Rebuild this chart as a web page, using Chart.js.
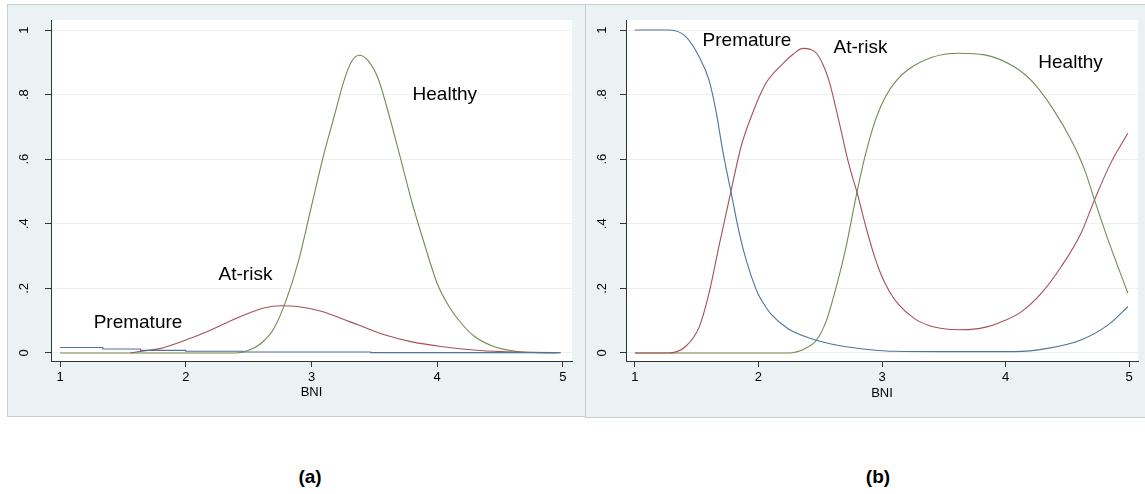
<!DOCTYPE html>
<html>
<head>
<meta charset="utf-8">
<script src="https://cdn.jsdelivr.net/npm/chart.js@4.4.1/dist/chart.umd.min.js"></script>
<style>
  body { margin: 0; background: #fff; width: 1145px; height: 494px; overflow: hidden; position: relative; font-family: "Liberation Sans", Arial, sans-serif; }
  .frame { position: absolute; background: #eaf2f3; box-sizing: border-box; border: 1px solid #c9cfd1; }
  .frame canvas { position: absolute; left: 0; top: 0; }
  .caption { position: absolute; top: 466px; font-weight: bold; font-size: 19px; width: 60px; text-align: center; color: #000; }
</style>
</head>
<body>
<div class="frame" id="frameA" style="left:7px; top:4px; width:579px; height:413px;">
  <canvas id="chartA" width="578" height="412"></canvas>
</div>
<div class="frame" id="frameB" style="left:585px; top:4px; width:562px; height:414px; border-right:none;">
  <canvas id="chartB" width="560" height="413"></canvas>
</div>
<div class="caption" style="left:280px;">(a)</div>
<div class="caption" style="left:848px;">(b)</div>

<script>
// tick values
const xTicks = [1, 2, 3, 4, 5];
const yTicks = [0, 0.2, 0.4, 0.6, 0.8, 1];
const yTickLabels = ['0', '.2', '.4', '.6', '.8', '1'];

// (a) densities by group
const densHealthyX = [1, 2.4, 2.5, 2.6, 2.7, 2.8, 2.9, 3.0, 3.1, 3.18, 3.26, 3.32, 3.38, 3.45, 3.53, 3.6, 3.7, 3.8, 3.9, 4.0, 4.1, 4.2, 4.3, 4.45, 4.64, 4.8, 4.95];
const densHealthyY = [0, 0, 0.008, 0.03, 0.075, 0.165, 0.29, 0.455, 0.618, 0.732, 0.845, 0.903, 0.922, 0.905, 0.85, 0.76, 0.615, 0.465, 0.335, 0.215, 0.14, 0.088, 0.05, 0.02, 0.004, 0.001, 0];
const densAtRiskX = [1.56, 1.7, 1.8, 1.9, 2.0, 2.1, 2.2, 2.35, 2.5, 2.62, 2.76, 2.9, 3.07, 3.18, 3.37, 3.58, 3.79, 4.03, 4.29, 4.51, 4.75, 4.98];
const densAtRiskY = [0, 0.008, 0.014, 0.026, 0.04, 0.055, 0.071, 0.098, 0.123, 0.139, 0.146, 0.143, 0.13, 0.115, 0.087, 0.056, 0.035, 0.02, 0.009, 0.004, 0.002, 0.001];
const densPrematureX = [1, 1.34, 1.64, 2.0, 2.45, 3.47, 4.98];
const densPrematureY = [0.017, 0.012, 0.008, 0.005, 0.003, 0.001, 0.001];

// (b) predicted probabilities
const probPrematureX = [1, 1.28, 1.41, 1.52, 1.60, 1.66, 1.71, 1.78, 1.84, 1.88, 1.94, 2.0, 2.05, 2.1, 2.24, 2.43, 2.64, 2.91, 3.1, 3.5, 4.07, 4.34, 4.61, 4.83, 4.99];
const probPrematureY = [1, 1, 0.98, 0.917, 0.845, 0.742, 0.628, 0.494, 0.38, 0.316, 0.24, 0.18, 0.148, 0.121, 0.075, 0.044, 0.024, 0.01, 0.005, 0.004, 0.004, 0.014, 0.04, 0.087, 0.143];
const probAtRiskX = [1, 1.27, 1.41, 1.52, 1.60, 1.68, 1.78, 1.86, 1.96, 2.06, 2.20, 2.28, 2.36, 2.42, 2.47, 2.52, 2.57, 2.65, 2.73, 2.80, 2.87, 2.93, 2.99, 3.06, 3.13, 3.26, 3.38, 3.50, 3.62, 3.72, 3.84, 3.94, 4.13, 4.29, 4.45, 4.61, 4.72, 4.85, 4.99];
const probAtRiskY = [0, 0, 0.02, 0.08, 0.185, 0.33, 0.505, 0.64, 0.75, 0.835, 0.897, 0.925, 0.943, 0.94, 0.928, 0.895, 0.845, 0.72, 0.587, 0.494, 0.39, 0.31, 0.245, 0.19, 0.152, 0.107, 0.085, 0.075, 0.072, 0.073, 0.08, 0.092, 0.128, 0.185, 0.267, 0.37, 0.474, 0.587, 0.68];
const probHealthyX = [1, 2.24, 2.38, 2.47, 2.55, 2.63, 2.71, 2.79, 2.87, 2.95, 3.03, 3.12, 3.21, 3.40, 3.62, 3.83, 4.07, 4.23, 4.39, 4.53, 4.64, 4.72, 4.83, 4.99];
const probHealthyY = [0, 0, 0.014, 0.04, 0.10, 0.205, 0.33, 0.484, 0.62, 0.725, 0.795, 0.845, 0.877, 0.915, 0.928, 0.923, 0.886, 0.835, 0.752, 0.66, 0.567, 0.474, 0.35, 0.185];

// curve labels, in data coordinates
const labelsA = [
    { text: 'Premature', x: 1.62, y: 0.093 },
    { text: 'At-risk', x: 2.475, y: 0.241 },
    { text: 'Healthy', x: 4.06, y: 0.80 }
];
const labelsB = [
    { text: 'Premature', x: 1.907, y: 0.966 },
    { text: 'At-risk', x: 2.826, y: 0.944 },
    { text: 'Healthy', x: 4.526, y: 0.90 }
];

const BLUE = '#4f7399';
const RED = '#a84e59';
const GREEN = '#6f8d4f';
const FONT = '"Liberation Sans", Arial, sans-serif';

const toPoints = (xs, ys) => {
    return xs.map((x, i) => {
        return { x: x, y: ys[i] };
    });
}

const lineSet = (xs, ys, color, stepped) => {
    return {
        data: toPoints(xs, ys),
        borderColor: color,
        borderWidth: 1.1,
        pointRadius: 0,
        fill: false,
        stepped: stepped || false,
        tension: 0.4,
        cubicInterpolationMode: 'monotone'
    };
}

// white plot region, rotated y labels, curve names
const stataPlugin = {
    id: 'stata',
    beforeDraw(chart) {
        const a = chart.chartArea;
        const ctx = chart.ctx;
        ctx.save();
        ctx.fillStyle = '#ffffff';
        ctx.fillRect(a.left, a.top, a.right - a.left, a.bottom - a.top);
        ctx.restore();
    },
    afterDraw(chart) {
        const ctx = chart.ctx;
        const ys = chart.scales.y;
        const xs = chart.scales.x;
        ctx.save();
        ctx.fillStyle = '#000';
        ctx.font = '13px ' + FONT;
        ctx.textAlign = 'center';
        ctx.textBaseline = 'middle';
        yTicks.forEach((v, i) => {
            ctx.save();
            ctx.translate(ys.left + 16, ys.getPixelForValue(v));
            ctx.rotate(-Math.PI / 2);
            ctx.fillText(yTickLabels[i], 0, 0);
            ctx.restore();
        });
        ctx.font = '19px ' + FONT;
        chart.options.plugins.stata.labels.forEach((l) => {
            ctx.fillText(l.text, xs.getPixelForValue(l.x), ys.getPixelForValue(l.y));
        });
        ctx.restore();
    }
};

const drawPanel = (canvasId, datasets, labels, yWidth, padRight) => {
    const canvas = document.getElementById(canvasId);
    const ctx = canvas.getContext('2d');
    const xHeight = canvas.height - 356;
    return new Chart(ctx, {
        type: 'line',
        data: { datasets: datasets },
        plugins: [stataPlugin],
        options: {
            responsive: false,
            animation: false,
            events: [],
            layout: { padding: { top: 15, right: padRight, left: 0, bottom: 0 } },
            plugins: {
                legend: { display: false },
                tooltip: { enabled: false },
                stata: { labels: labels }
            },
            scales: {
                x: {
                    type: 'linear',
                    min: 0.928,
                    max: 5.072,
                    afterBuildTicks: (scale) => {
                        scale.ticks = xTicks.map((v) => ({ value: v }));
                    },
                    afterFit: (scale) => { scale.height = xHeight; },
                    border: { color: '#333', width: 1 },
                    grid: { drawOnChartArea: false, drawTicks: true, tickLength: 6, tickColor: '#333' },
                    ticks: { color: '#000', font: { family: FONT, size: 13 }, padding: 3, maxRotation: 0 },
                    title: { display: true, text: 'BNI', color: '#000', font: { family: FONT, size: 13 }, padding: { top: 0, bottom: 17 } }
                },
                y: {
                    type: 'linear',
                    min: -0.025,
                    max: 1.031,
                    afterBuildTicks: (scale) => {
                        scale.ticks = yTicks.map((v) => ({ value: v }));
                    },
                    afterFit: (scale) => { scale.width = yWidth; },
                    border: { color: '#333', width: 1 },
                    grid: { color: '#efefef', drawTicks: true, tickLength: 6, tickColor: '#333' },
                    ticks: { display: false }
                }
            }
        }
    });
}

drawPanel('chartA', [
    lineSet(densPrematureX, densPrematureY, BLUE, true),
    lineSet(densAtRiskX, densAtRiskY, RED),
    lineSet(densHealthyX, densHealthyY, GREEN)
], labelsA, 43, 14);

drawPanel('chartB', [
    lineSet(probPrematureX, probPrematureY, BLUE),
    lineSet(probAtRiskX, probAtRiskY, RED),
    lineSet(probHealthyX, probHealthyY, GREEN)
], labelsB, 40, 8);
</script>
</body>
</html>
